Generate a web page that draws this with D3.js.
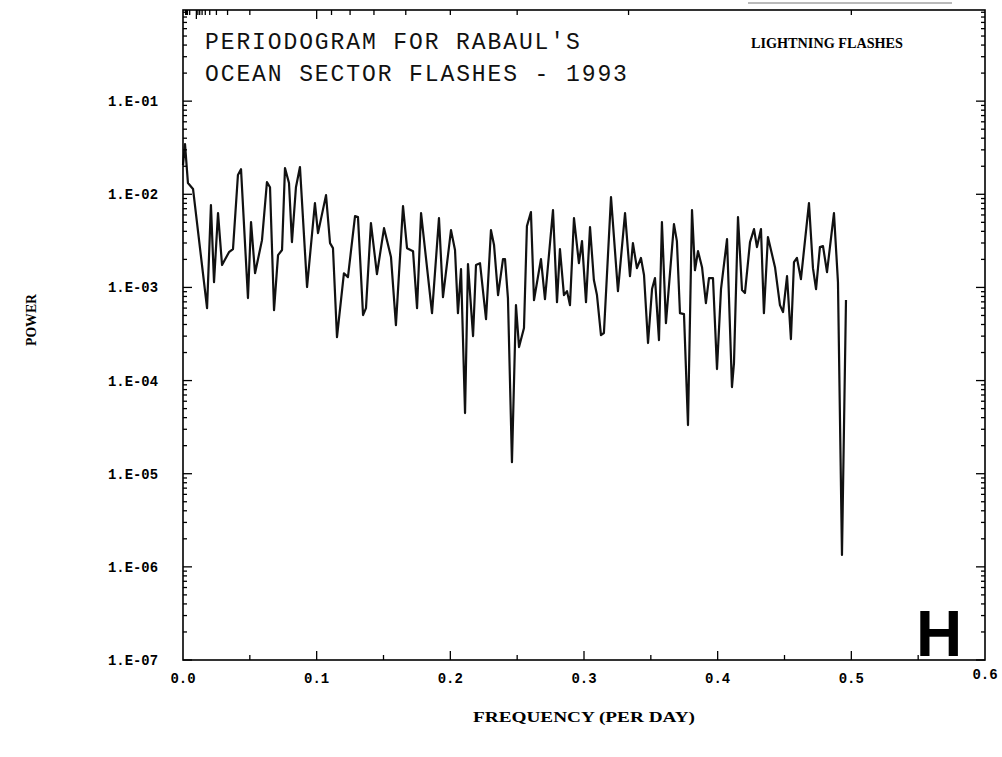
<!DOCTYPE html>
<html><head><meta charset="utf-8">
<script src="https://cdn.jsdelivr.net/npm/d3@7"></script>
<style>body{margin:0;background:#fff}svg{display:block}</style>
</head><body>
<svg id="c" width="1002" height="757"></svg>
<script>
// ---- data ----
const freq = [0.0000,0.0015,0.0037,0.0075,0.0180,0.0209,0.0232,0.0262,0.0292,0.0344,
0.0374,0.0411,0.0434,0.0486,0.0509,0.0539,0.0591,0.0628,0.0651,0.0681,
0.0711,0.0741,0.0763,0.0793,0.0815,0.0845,0.0875,0.0928,0.0987,0.1010,
0.1070,0.1100,0.1122,0.1152,0.1204,0.1234,0.1287,0.1309,0.1347,0.1369,
0.1406,0.1451,0.1504,0.1556,0.1593,0.1646,0.1676,0.1721,0.1751,0.1781,
0.1863,0.1915,0.1945,0.2005,0.2035,0.2057,0.2080,0.2110,0.2132,0.2170,
0.2192,0.2222,0.2267,0.2304,0.2327,0.2357,0.2394,0.2409,0.2431,0.2461,
0.2491,0.2514,0.2551,0.2573,0.2603,0.2626,0.2678,0.2708,0.2768,0.2798,
0.2820,0.2850,0.2873,0.2895,0.2925,0.2962,0.2985,0.3015,0.3045,0.3074,
0.3097,0.3127,0.3149,0.3202,0.3254,0.3307,0.3344,0.3366,0.3396,0.3426,
0.3449,0.3479,0.3509,0.3531,0.3561,0.3583,0.3613,0.3673,0.3695,0.3718,
0.3748,0.3778,0.3808,0.3830,0.3853,0.3883,0.3912,0.3935,0.3965,0.3995,
0.4025,0.4070,0.4107,0.4122,0.4152,0.4182,0.4204,0.4242,0.4272,0.4294,
0.4324,0.4346,0.4376,0.4429,0.4466,0.4489,0.4519,0.4548,0.4571,0.4593,
0.4623,0.4683,0.4713,0.4736,0.4765,0.4788,0.4818,0.4870,0.4900,0.4930,
0.4960];
const power = [2.06e-2,3.46e-2,1.32e-2,1.14e-2,6.0e-4,7.65e-3,1.14e-3,6.28e-3,1.74e-3,2.39e-3,
2.58e-3,1.61e-2,1.86e-2,7.69e-4,5.03e-3,1.42e-3,3.22e-3,1.35e-2,1.19e-2,5.71e-4,
2.22e-3,2.52e-3,1.91e-2,1.32e-2,3.07e-3,1.19e-2,1.96e-2,1.01e-3,8.04e-3,3.83e-3,
9.8e-3,2.99e-3,2.64e-3,2.93e-4,1.42e-3,1.29e-3,5.83e-3,5.69e-3,5.05e-4,6.0e-4,
4.90e-3,1.39e-3,4.33e-3,2.12e-3,3.94e-4,7.46e-3,2.64e-3,2.45e-3,6.0e-4,6.28e-3,
5.30e-4,5.55e-3,7.87e-4,4.12e-3,2.52e-3,5.30e-4,1.57e-3,4.48e-5,1.78e-3,3.0e-4,
1.74e-3,1.82e-3,4.57e-4,4.12e-3,2.85e-3,8.28e-4,2.01e-3,2.01e-3,7.69e-4,1.33e-5,
6.46e-4,2.29e-4,3.66e-4,4.55e-3,6.44e-3,7.31e-4,2.01e-3,7.49e-4,6.76e-3,6.96e-4,
2.58e-3,8.28e-4,9.13e-4,6.46e-4,5.55e-3,1.82e-3,3.14e-3,6.96e-4,4.44e-3,1.20e-3,
8.28e-4,3.08e-4,3.24e-4,9.32e-3,9.13e-4,6.28e-3,1.32e-3,2.99e-3,1.61e-3,2.07e-3,
1.36e-3,2.53e-4,9.6e-4,1.26e-3,2.72e-4,5.03e-3,4.14e-4,4.78e-3,3.14e-3,5.30e-4,
5.17e-4,3.33e-5,6.76e-3,1.53e-3,2.45e-3,1.65e-3,6.79e-4,1.26e-3,1.26e-3,1.33e-4,
9.6e-4,3.30e-3,8.52e-5,1.54e-4,5.69e-3,9.37e-4,8.7e-4,3.07e-3,4.23e-3,2.71e-3,
4.23e-3,5.30e-4,3.47e-3,1.65e-3,6.46e-4,5.44e-4,1.32e-3,2.79e-4,1.87e-3,2.07e-3,
1.23e-3,8.04e-3,1.61e-3,9.6e-4,2.71e-3,2.78e-3,1.46e-3,6.28e-3,1.14e-3,1.34e-6,
7.31e-4];

const yTickValues = [1e-7,1e-6,1e-5,1e-4,1e-3,1e-2,1e-1];
const yTickLabels = ["1.E-07","1.E-06","1.E-05","1.E-04","1.E-03","1.E-02","1.E-01"];
const xTickValues = [0,0.1,0.2,0.3,0.4,0.5,0.6];
const xTickLabels = ["0.0","0.1","0.2","0.3","0.4","0.5","0.6"];
const xMinorTicks = [0.05,0.15,0.25,0.35,0.45,0.55];
const periodTicks = [2,3,4,5,6,7,8,9,10,20,30,40,50,60,70,80,90,100,200,300,400,500];
const periodMajor = [10,100];

const titleLines = ["PERIODOGRAM FOR RABAUL'S","OCEAN SECTOR FLASHES - 1993"];
const subTitle = "LIGHTNING FLASHES";
const xTitle = "FREQUENCY (PER DAY)";
const yTitle = "POWER";
const panelLetter = "H";

// ---- layout ----
const L = 183, R = 985, T = 10, B = 660;
const svg = d3.select("#c");
const x = d3.scaleLinear().domain([0, 0.6]).range([L, R]);
const y = d3.scaleLog().domain([1e-7, 1]).range([B, 8]);

// scan noise line at very top
svg.append("line").attr("x1",748).attr("x2",952).attr("y1",3).attr("y2",3)
  .attr("stroke","#777").attr("stroke-width",1);

// series
const pts = freq.map((f,i)=>[f,power[i]]);
svg.append("path").datum(pts)
  .attr("fill","none").attr("stroke","#111").attr("stroke-width",2.2)
  .attr("stroke-linejoin","round")
  .attr("d", d3.line().x(d=>x(d[0])).y(d=>y(d[1])));

// frame
svg.append("rect").attr("x",L).attr("y",T).attr("width",R-L).attr("height",B-T)
  .attr("fill","none").attr("stroke","#000").attr("stroke-width",1.6);

const tk = svg.append("g").attr("stroke","#000").attr("stroke-width",1.3);
// log ticks left & right
for (let e=-7; e<=0; e++) {
  for (let k=1; k<=9; k++) {
    const v = k*Math.pow(10,e);
    const py = y(v);
    if (py < T+1 || py > B) continue;
    const len = k===1 ? 9 : 4;
    tk.append("line").attr("x1",L).attr("x2",L+len).attr("y1",py).attr("y2",py);
    tk.append("line").attr("x1",R).attr("x2",R-len).attr("y1",py).attr("y2",py);
  }
}
// bottom ticks
xTickValues.slice(1,6).forEach(v=>{
  tk.append("line").attr("x1",x(v)).attr("x2",x(v)).attr("y1",B).attr("y2",B-9);
});
xMinorTicks.forEach(v=>{
  tk.append("line").attr("x1",x(v)).attr("x2",x(v)).attr("y1",B).attr("y2",B-5);
});
// top ticks (period axis)
periodTicks.forEach(p=>{
  const px = x(1/p);
  const len = periodMajor.includes(p) ? 9 : 5;
  tk.append("line").attr("x1",px).attr("x2",px).attr("y1",T).attr("y2",T+len);
});

// y labels
svg.append("g").selectAll("text").data(yTickValues).join("text")
  .attr("x",158).attr("y",d=>y(d)+5)
  .attr("text-anchor","end")
  .style("font-family","'Liberation Mono', monospace").style("font-weight","bold")
  .style("font-size","14px")
  .attr("textLength",50).attr("lengthAdjust","spacingAndGlyphs")
  .text((d,i)=>yTickLabels[i]);

// x labels
svg.append("g").selectAll("text").data(xTickValues).join("text")
  .attr("x",d=>x(d)).attr("y",(d,i)=> i===6 ? 679 : 683)
  .attr("text-anchor","middle")
  .style("font-family","'Liberation Mono', monospace").style("font-weight","bold")
  .style("font-size","14px")
  .text((d,i)=>xTickLabels[i]);

// axis titles
svg.append("text").attr("x",584).attr("y",722).attr("text-anchor","middle")
  .style("font-family","'Liberation Serif', serif").style("font-weight","bold")
  .style("font-size","15px")
  .attr("textLength",222).attr("lengthAdjust","spacingAndGlyphs")
  .text(xTitle);
svg.append("text").attr("transform","translate(36,320) rotate(-90)")
  .attr("text-anchor","middle")
  .style("font-family","'Liberation Serif', serif").style("font-weight","bold")
  .style("font-size","14px")
  .attr("textLength",52).attr("lengthAdjust","spacingAndGlyphs")
  .text(yTitle);

// title
titleLines.forEach((t,i)=>{
  svg.append("text").attr("x",205).attr("y",[49,81][i])
    .style("font-family","'Liberation Mono', monospace")
    .style("font-size","23px")
    .attr("textLength", t.length*15.7 - 2).attr("lengthAdjust","spacing")
    .attr("fill","#111")
    .text(t);
});
svg.append("text").attr("x",751).attr("y",48)
  .style("font-family","'Liberation Serif', serif").style("font-weight","bold")
  .style("font-size","15px")
  .attr("textLength",152).attr("lengthAdjust","spacingAndGlyphs")
  .text(subTitle);

// panel letter
svg.append("text").attr("x",916).attr("y",656)
  .style("font-family","'Liberation Sans', Arial, sans-serif").style("font-weight","bold")
  .style("font-size","64px")
  .text(panelLetter);
</script>
</body></html>
